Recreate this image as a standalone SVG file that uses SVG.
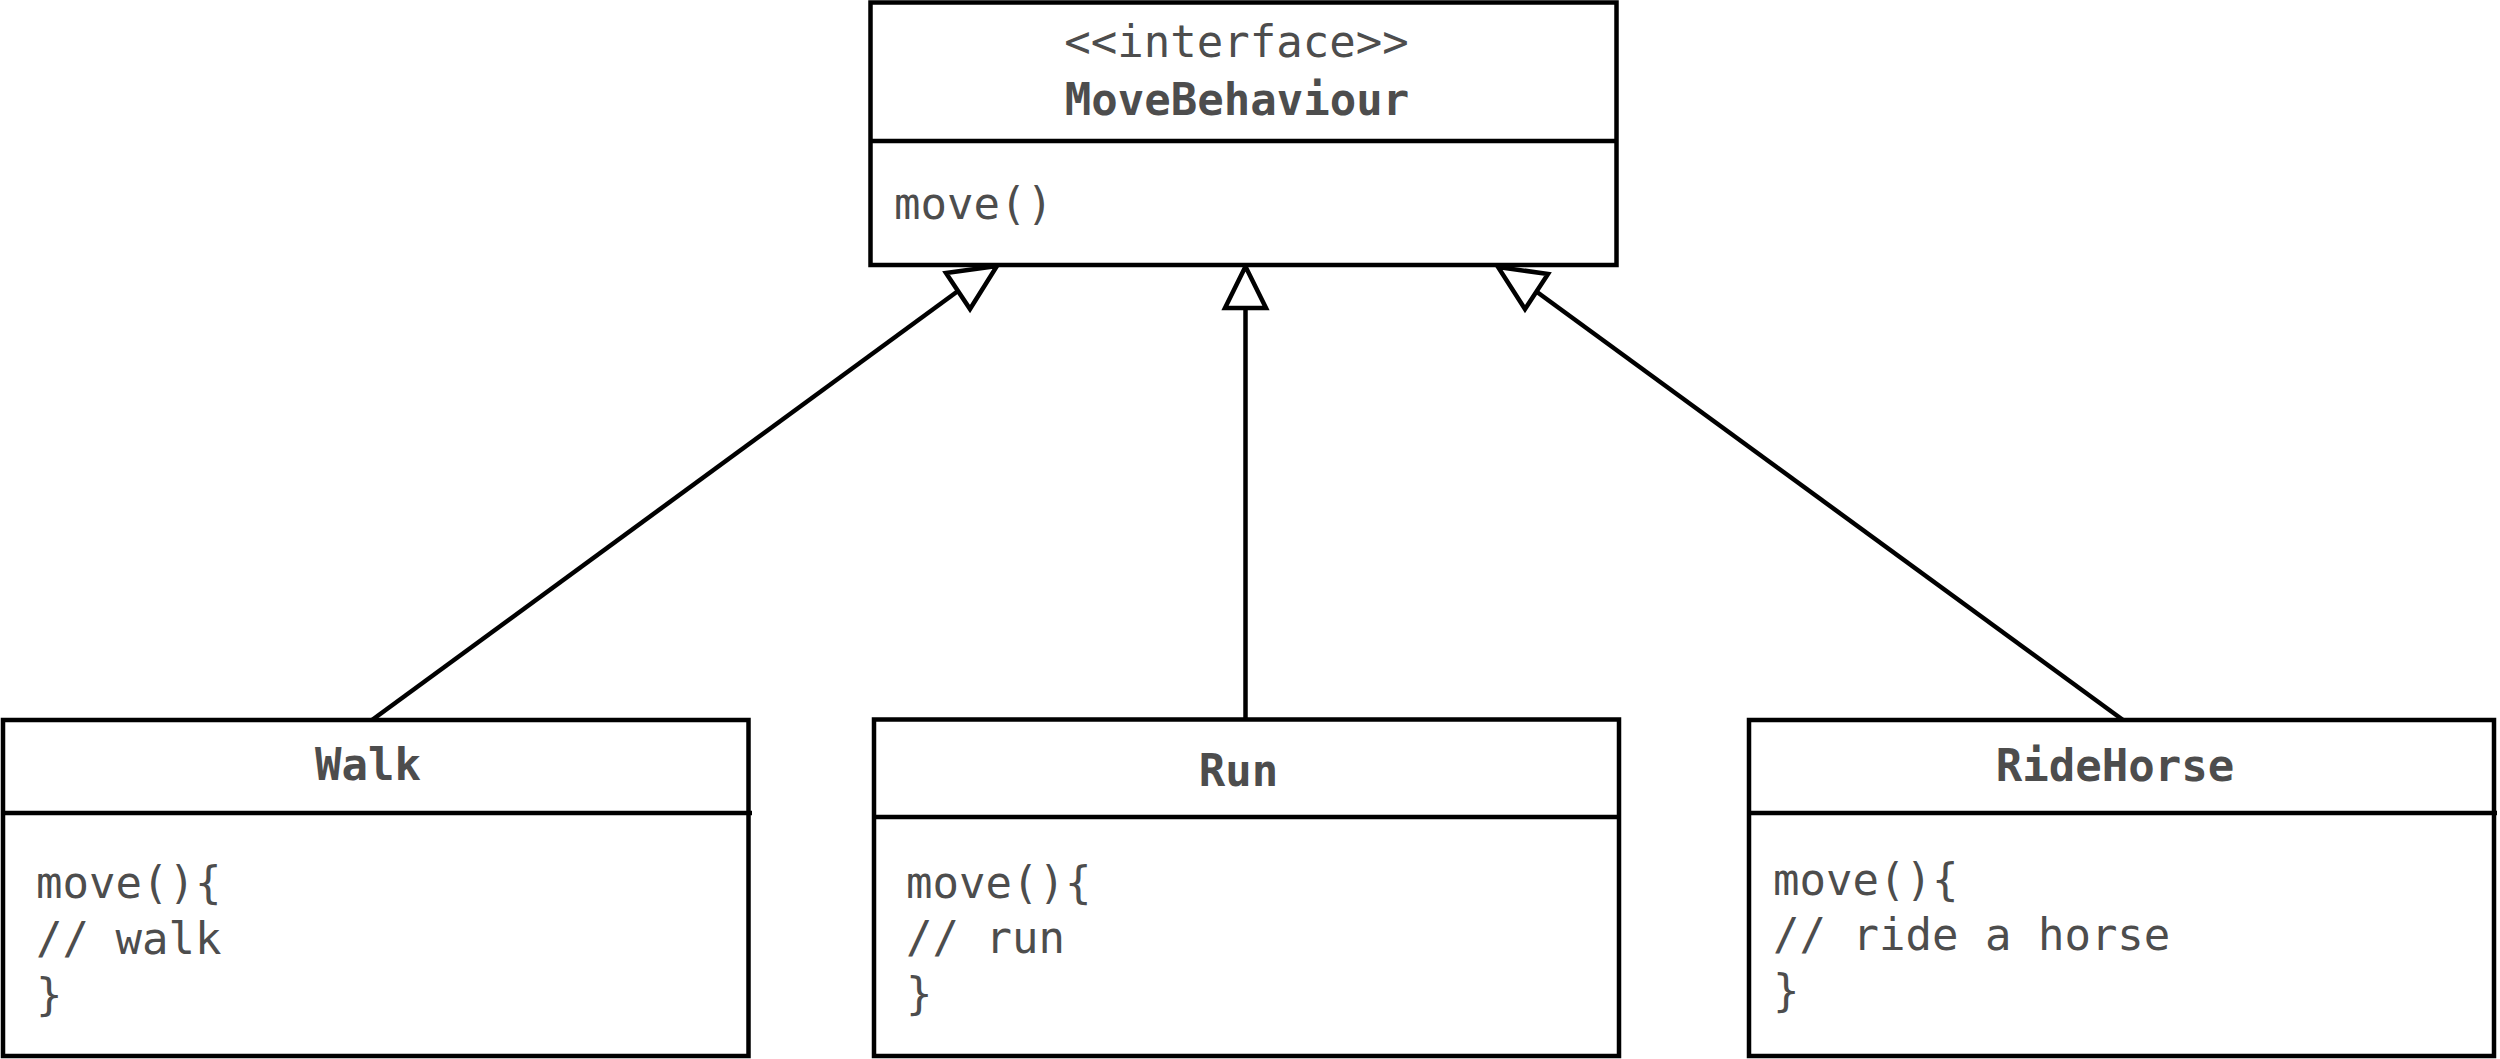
<svg xmlns="http://www.w3.org/2000/svg" width="2500" height="1059" viewBox="0 0 2500 1059">
<style>
.box{fill:#ffffff;stroke:#000000;stroke-width:4.5}
.div{stroke:#000000;stroke-width:4.5;fill:none}
.t{font-family:"DejaVu Sans Mono","Liberation Mono",monospace;font-size:44px;fill:#4d4d4d}
.c{text-anchor:middle}
.b{font-weight:bold}
.st{font-weight:300}
.edge{stroke:#000000;stroke-width:4.5;fill:none}
.head{fill:#ffffff;stroke:#000000;stroke-width:4.5;stroke-linejoin:miter}
</style>
<rect width="2500" height="1059" fill="#ffffff"/>
<g id="connectors">
  <line class="edge" x1="372" y1="720" x2="958" y2="291"/>
  <polygon class="head" points="997,266 946,273 970,309"/>
  <line class="edge" x1="1245.5" y1="719" x2="1245.5" y2="308"/>
  <polygon class="head" points="1245.5,266.5 1225,308 1266,308"/>
  <line class="edge" x1="2123" y1="720" x2="1537" y2="292"/>
  <polygon class="head" points="1498,267 1548,274 1525,309"/>
</g>
<g id="MoveBehaviour">
  <rect class="box" x="870.5" y="2.5" width="746" height="262.5"/>
  <line class="div" x1="870.5" y1="141" x2="1616.5" y2="141"/>
  <text class="t c st" x="1236.5" y="57">&lt;&lt;interface&gt;&gt;</text>
  <text class="t c b" x="1237" y="115">MoveBehaviour</text>
  <text class="t" x="894" y="219">move()</text>
</g>
<g id="Walk">
  <rect class="box" x="3" y="720" width="745.5" height="336"/>
  <line class="div" x1="3" y1="813" x2="752" y2="813"/>
  <text class="t c b" x="368" y="780">Walk</text>
  <text class="t" x="36" y="898">move(){</text>
  <text class="t" x="36" y="954">// walk</text>
  <text class="t" x="36" y="1010">}</text>
</g>
<g id="Run">
  <rect class="box" x="874" y="719.5" width="745" height="336.5"/>
  <line class="div" x1="874" y1="817" x2="1621" y2="817"/>
  <text class="t c b" x="1238.5" y="786">Run</text>
  <text class="t" x="906" y="898">move(){</text>
  <text class="t" x="906" y="953">// run</text>
  <text class="t" x="906" y="1009">}</text>
</g>
<g id="RideHorse">
  <rect class="box" x="1749" y="720" width="745" height="336"/>
  <line class="div" x1="1749" y1="813" x2="2497" y2="813"/>
  <text class="t c b" x="2115" y="781">RideHorse</text>
  <text class="t" x="1773" y="895">move(){</text>
  <text class="t" x="1773" y="950">// ride a horse</text>
  <text class="t" x="1773" y="1006">}</text>
</g>
</svg>
